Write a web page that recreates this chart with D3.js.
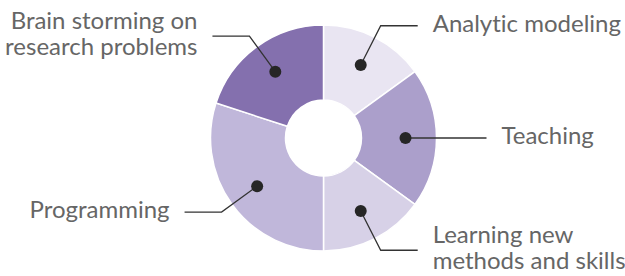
<!DOCTYPE html>
<html>
<head>
  <meta charset="utf-8">
  <style>
    body { margin: 0; background: #fff; }
    svg { display: block; }
    .label { font-family: Lato, "Open Sans", sans-serif; font-size: 24px; fill: #666; font-variant-ligatures: none; }
  </style>
  <title>Donut chart</title>
</head>
<body>
  <script src="https://cdn.jsdelivr.net/npm/d3@7"></script>
  <script>
    // chart data
    var categories = ["Analytic modeling", "Teaching", "Learning new|methods and skills", "Programming", "Brain storming on|research problems"];
    var shares = [15, 20, 15, 30, 20];
    var colors = ["#e9e5f2", "#ab9fcb", "#d7d1e7", "#c0b7da", "#8470ae"];

    // dimensions
    var width = 625;
    var height = 276;
    var cx = 323.5;
    var cy = 138;
    var innerR = 38;
    var outerR = 113;
    var dotR = 82;      // where the marker dot sits
    var elbowR = 126;   // where the leader line bends
    var tail = 37;      // horizontal part of leader line
    var gap = 15;       // space between line and text
    var lineH = 26;

    var svg = d3.select("body").append("svg")
      .attr("width", width)
      .attr("height", height);

    var g = svg.append("g")
      .attr("transform", "translate(" + cx + "," + cy + ")");

    var pie = d3.pie().sort(null).value(function(d) { return d; });
    var arcs = pie(shares);

    var arc = d3.arc().innerRadius(innerR).outerRadius(outerR);
    var dotArc = d3.arc().innerRadius(dotR).outerRadius(dotR);
    var elbowArc = d3.arc().innerRadius(elbowR).outerRadius(elbowR);

    // slices
    g.selectAll("path.slice")
      .data(arcs)
      .enter()
      .append("path")
      .attr("class", "slice")
      .attr("d", arc)
      .attr("fill", function(d, i) { return colors[i]; })
      .attr("stroke", "#fff")
      .attr("stroke-width", 1.5);

    // leader lines, dots and labels
    arcs.forEach(function(d, i) {
      var p0 = dotArc.centroid(d);
      var p1 = elbowArc.centroid(d);
      var mid = (d.startAngle + d.endAngle) / 2;
      var right = mid < Math.PI;
      var p2 = [p1[0] + (right ? tail : -tail), p1[1]];

      g.append("polyline")
        .attr("points", [p0, p1, p2].map(function(p) { return p.join(","); }).join(" "))
        .attr("fill", "none")
        .attr("stroke", "#333")
        .attr("stroke-width", 1.3);

      g.append("circle")
        .attr("cx", p0[0])
        .attr("cy", p0[1])
        .attr("r", 6)
        .attr("fill", "#262626");

      var lines = categories[i].split("|");
      var tx = p2[0] + (right ? gap : -gap);
      var txt = g.append("text")
        .attr("class", "label")
        .attr("text-anchor", right ? "start" : "end")
        .attr("x", tx)
        .attr("y", p2[1] + 6 - (lines.length - 1) * lineH / 2);

      lines.forEach(function(s, k) {
        txt.append("tspan")
          .attr("x", tx)
          .attr("dy", k === 0 ? 0 : lineH)
          .text(s);
      });
    });
  </script>
</body>
</html>
